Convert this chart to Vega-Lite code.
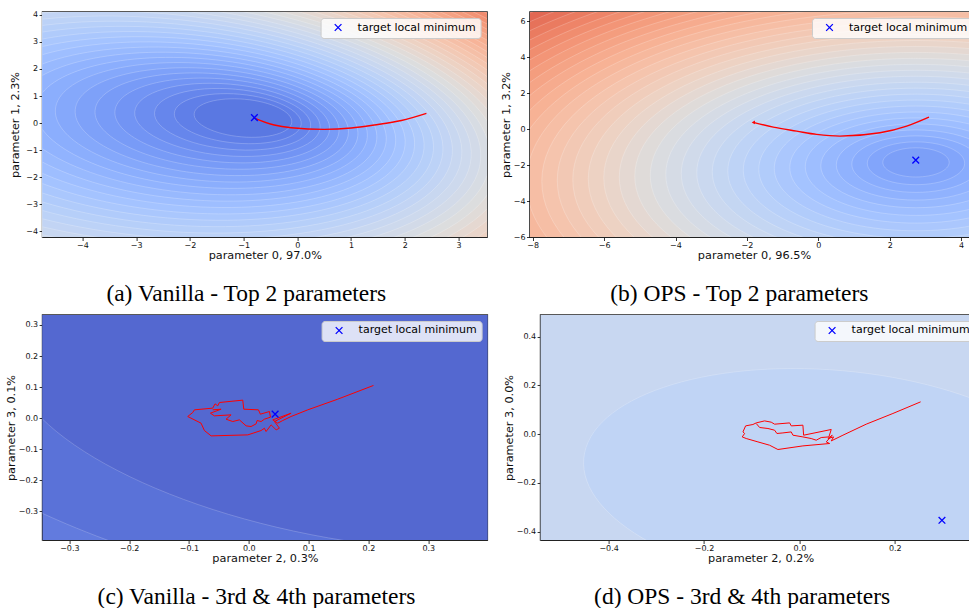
{
  "$schema": "https://vega.github.io/schema/vega-lite/v6.json",
  "padding": {"left": 4.6, "top": 10, "right": 0, "bottom": 0},
  "background": "white",
  "datasets": {
    "ringsA": [
      {"x":-4.877,"y":-0.710,"lvl":0.780},{"x":-4.781,"y":-0.688,"lvl":0.762},{"x":-4.684,"y":-0.665,"lvl":0.744},{"x":-4.587,"y":-0.643,"lvl":0.726},
      {"x":-4.491,"y":-0.621,"lvl":0.708},{"x":-4.394,"y":-0.598,"lvl":0.690},{"x":-4.298,"y":-0.576,"lvl":0.672},{"x":-4.201,"y":-0.554,"lvl":0.654},
      {"x":-4.104,"y":-0.531,"lvl":0.636},{"x":-4.008,"y":-0.509,"lvl":0.618},{"x":-3.911,"y":-0.487,"lvl":0.600},{"x":-3.815,"y":-0.464,"lvl":0.582},
      {"x":-3.718,"y":-0.442,"lvl":0.564},{"x":-3.621,"y":-0.420,"lvl":0.546},{"x":-3.525,"y":-0.397,"lvl":0.528},{"x":-3.428,"y":-0.375,"lvl":0.510},
      {"x":-3.332,"y":-0.353,"lvl":0.492},{"x":-3.235,"y":-0.330,"lvl":0.474},{"x":-3.138,"y":-0.308,"lvl":0.456},{"x":-3.042,"y":-0.286,"lvl":0.438},
      {"x":-2.945,"y":-0.263,"lvl":0.420},{"x":-2.849,"y":-0.241,"lvl":0.402},{"x":-2.752,"y":-0.219,"lvl":0.384},{"x":-2.655,"y":-0.196,"lvl":0.366},
      {"x":-2.559,"y":-0.174,"lvl":0.348},{"x":-2.462,"y":-0.152,"lvl":0.330},{"x":-2.365,"y":-0.129,"lvl":0.312},{"x":-2.269,"y":-0.107,"lvl":0.294},
      {"x":-2.172,"y":-0.085,"lvl":0.276},{"x":-2.076,"y":-0.062,"lvl":0.258},{"x":-1.979,"y":-0.040,"lvl":0.240},{"x":-1.882,"y":-0.018,"lvl":0.222},
      {"x":-1.786,"y":0.005,"lvl":0.204},{"x":-1.689,"y":0.027,"lvl":0.186},{"x":-1.593,"y":0.050,"lvl":0.168},{"x":-1.496,"y":0.072,"lvl":0.150},
      {"x":-1.399,"y":0.094,"lvl":0.132},{"x":-1.303,"y":0.117,"lvl":0.114},{"x":-1.206,"y":0.139,"lvl":0.096},{"x":-1.110,"y":0.161,"lvl":0.078},
      {"x":-1.013,"y":0.184,"lvl":0.060}
    ],
    "ringsB": [
      {"x":2.736,"y":-3.617,"lvl":0.8415},{"x":2.736,"y":-3.569,"lvl":0.820},{"x":2.736,"y":-3.521,"lvl":0.7985},{"x":2.736,"y":-3.474,"lvl":0.777},
      {"x":2.736,"y":-3.426,"lvl":0.7555},{"x":2.736,"y":-3.378,"lvl":0.734},{"x":2.736,"y":-3.330,"lvl":0.7125},{"x":2.736,"y":-3.282,"lvl":0.691},
      {"x":2.736,"y":-3.235,"lvl":0.6695},{"x":2.736,"y":-3.187,"lvl":0.648},{"x":2.736,"y":-3.139,"lvl":0.6265},{"x":2.736,"y":-3.091,"lvl":0.605},
      {"x":2.736,"y":-3.044,"lvl":0.5835},{"x":2.736,"y":-2.996,"lvl":0.562},{"x":2.736,"y":-2.948,"lvl":0.5405},{"x":2.736,"y":-2.900,"lvl":0.519},
      {"x":2.736,"y":-2.852,"lvl":0.4975},{"x":2.736,"y":-2.805,"lvl":0.476},{"x":2.736,"y":-2.757,"lvl":0.4545},{"x":2.736,"y":-2.709,"lvl":0.433},
      {"x":2.736,"y":-2.661,"lvl":0.4115},{"x":2.736,"y":-2.614,"lvl":0.390},{"x":2.736,"y":-2.566,"lvl":0.3685},{"x":2.736,"y":-2.518,"lvl":0.347},
      {"x":2.736,"y":-2.470,"lvl":0.3255},{"x":2.736,"y":-2.423,"lvl":0.304},{"x":2.736,"y":-2.375,"lvl":0.2825},{"x":2.736,"y":-2.327,"lvl":0.261},
      {"x":2.736,"y":-2.279,"lvl":0.2395},{"x":2.736,"y":-2.231,"lvl":0.218},{"x":2.736,"y":-2.184,"lvl":0.1965},{"x":2.736,"y":-2.136,"lvl":0.175},
      {"x":2.736,"y":-2.088,"lvl":0.1535},{"x":2.736,"y":-2.040,"lvl":0.132},{"x":2.736,"y":-1.993,"lvl":0.1105},{"x":2.736,"y":-1.945,"lvl":0.089},
      {"x":2.736,"y":-1.897,"lvl":0.0675},{"x":2.736,"y":-1.849,"lvl":0.046}
    ],
    "ringsC": [
      {"x":0.171,"y":0.0268,"lvl":2.5},{"x":0.171,"y":0.0268,"lvl":1.455},{"x":0.171,"y":0.0268,"lvl":1.0}
    ],
    "ringsD": [
      {"x":0.070,"y":-0.189,"lvl":3.0},{"x":0.070,"y":-0.189,"lvl":1.0}
    ],
    "trajA": [
      {"i":0,"x":-0.816,"y":0.195},{"i":1,"x":-0.431,"y":-0.075},{"i":2,"x":-0.114,"y":-0.175},{"i":3,"x":0.501,"y":-0.234},
      {"i":4,"x":1.004,"y":-0.186},{"i":5,"x":1.433,"y":-0.075},{"i":6,"x":1.936,"y":0.091},{"i":7,"x":2.402,"y":0.358}
    ],
    "trajB": [
      {"i":0,"x":-1.82,"y":0.376},{"i":1,"x":-1.261,"y":0.114},{"i":2,"x":-0.606,"y":-0.108},{"i":3,"x":-0.045,"y":-0.291},
      {"i":4,"x":0.607,"y":-0.386},{"i":5,"x":1.728,"y":-0.202},{"i":6,"x":2.476,"y":0.17},{"i":7,"x":3.1,"y":0.67}
    ],
    "trajC": [
      {"i":1,"x":0.2084,"y":0.1053},{"i":2,"x":0.1488,"y":0.0612},{"i":3,"x":0.0986,"y":0.0268},{"i":4,"x":0.0707,"y":0.0053},
      {"i":5,"x":0.0568,"y":-0.0076},{"i":6,"x":0.0484,"y":-0.0162},{"i":7,"x":0.0401,"y":-0.0055},{"i":8,"x":0.0707,"y":0.016},
      {"i":9,"x":0.0429,"y":-0.0109},{"i":10,"x":0.0512,"y":-0.0324},{"i":11,"x":0.0457,"y":-0.0377},{"i":12,"x":0.0373,"y":-0.0216},
      {"i":13,"x":0.0289,"y":-0.0431},{"i":14,"x":0.0261,"y":-0.0324},{"i":15,"x":0.0206,"y":-0.0399},{"i":16,"x":-0.0017,"y":-0.0539},
      {"i":17,"x":-0.063,"y":-0.0571},{"i":18,"x":-0.0742,"y":-0.0399},{"i":19,"x":-0.0798,"y":-0.0162},{"i":20,"x":-0.1021,"y":0.0053},
      {"i":21,"x":-0.0937,"y":0.0182},{"i":22,"x":-0.0909,"y":0.0268},{"i":23,"x":-0.0603,"y":0.0322},{"i":24,"x":-0.0564,"y":0.0461},
      {"i":25,"x":-0.0519,"y":0.0397},{"i":26,"x":-0.0491,"y":0.0504},{"i":27,"x":-0.0101,"y":0.058},{"i":28,"x":-0.0084,"y":0.0289},
      {"i":29,"x":0.0161,"y":0.0268},{"i":30,"x":0.0194,"y":0.0128},{"i":31,"x":0.0345,"y":0.0214},{"i":32,"x":0.0362,"y":0.0031},
      {"i":33,"x":0.0261,"y":-0.0033},{"i":34,"x":0.0206,"y":-0.0109},{"i":35,"x":0.0139,"y":-0.0076},{"i":36,"x":0.0122,"y":-0.0184},
      {"i":37,"x":0.0038,"y":-0.027},{"i":38,"x":-0.0045,"y":-0.0248},{"i":39,"x":-0.0157,"y":-0.0055},{"i":40,"x":-0.0268,"y":-0.0109},
      {"i":41,"x":-0.038,"y":-0.0033},{"i":42,"x":-0.0296,"y":0.0106},{"i":43,"x":-0.0575,"y":0.0074},{"i":44,"x":-0.0642,"y":0.016},
      {"i":45,"x":-0.0463,"y":0.0289},{"i":46,"x":-0.0603,"y":0.0268}
    ],
    "trajD": [
      {"i":1,"x":0.2541,"y":0.1327},{"i":2,"x":0.196,"y":0.085},{"i":3,"x":0.14,"y":0.0411},{"i":4,"x":0.0912,"y":-0.0041},
      {"i":5,"x":0.0667,"y":-0.0275},{"i":6,"x":0.0717,"y":-0.0111},{"i":7,"x":0.0597,"y":-0.0177},{"i":8,"x":0.0688,"y":-0.0041},
      {"i":9,"x":0.0562,"y":-0.0316},{"i":10,"x":0.0633,"y":-0.0382},{"i":11,"x":0.0073,"y":-0.048},{"i":12,"x":-0.0451,"y":-0.0628},
      {"i":13,"x":-0.0625,"y":-0.0452},{"i":14,"x":-0.087,"y":-0.0316},{"i":15,"x":-0.1115,"y":-0.0177},{"i":16,"x":-0.1199,"y":-0.0111},
      {"i":17,"x":-0.1149,"y":0.0029},{"i":18,"x":-0.1184,"y":0.0094},{"i":19,"x":-0.1128,"y":0.0341},{"i":20,"x":-0.0975,"y":0.0398},
      {"i":21,"x":-0.0906,"y":0.0464},{"i":22,"x":-0.073,"y":0.0546},{"i":23,"x":-0.0591,"y":0.0493},{"i":24,"x":-0.052,"y":0.0411},
      {"i":25,"x":-0.0205,"y":0.0464},{"i":26,"x":-0.0172,"y":0.0341},{"i":27,"x":0.0073,"y":0.037},{"i":28,"x":0.0088,"y":-0.0041},
      {"i":29,"x":0.0667,"y":0.0193},{"i":30,"x":0.0618,"y":-0.0111},{"i":31,"x":0.0457,"y":-0.0136},{"i":32,"x":0.0352,"y":-0.0246},
      {"i":33,"x":0.0247,"y":-0.0177},{"i":34,"x":0.0073,"y":-0.0111},{"i":35,"x":-0.0136,"y":-0.0041},{"i":36,"x":-0.0172,"y":0.0094},
      {"i":37,"x":-0.0346,"y":0.0053},{"i":38,"x":-0.0472,"y":0.0029},{"i":39,"x":-0.052,"y":0.0164},{"i":40,"x":-0.066,"y":0.0234},
      {"i":41,"x":-0.0834,"y":0.0275},{"i":42,"x":-0.0906,"y":0.0439}
    ]
  },
  "resolve": {"scale": {"fill": "independent", "size": "independent", "shape": "independent"}},
  "spacing": 7,
  "vconcat": [
    {
      "spacing": 10.4,
      "resolve": {"scale": {"fill": "independent", "size": "independent", "shape": "independent"}},
      "hconcat": [
        {
          "width": 444.4, "height": 225,
          "title": {"text": "(a) Vanilla - Top 2 parameters", "orient": "bottom", "anchor": "middle", "frame": "bounds", "offset": 21.6, "dx": -2},
          "layer": [
            {
              "data": {"name": "ringsA"},
              "mark": {"type": "point", "shape": "M-1,0C-1,-0.2126,-0.5523,-0.385,0,-0.385C0.5523,-0.385,1,-0.2126,1,0C1,0.2126,0.5523,0.385,0,0.385C-0.5523,0.385,-1,0.2126,-1,0Z", "filled": true, "opacity": 1, "stroke": "#ffffff", "strokeWidth": 0.6, "strokeOpacity": 0.35, "angle": 5, "clip": true},
              "encoding": {
                "x": {"field": "x", "type": "quantitative", "scale": {"domain": [-4.743, 3.53], "nice": false, "zero": false}, "axis": {"title": "parameter 0, 97.0%", "values": [-4,-3,-2,-1,0,1,2,3], "tickCount": 40, "format": "d"}},
                "y": {"field": "y", "type": "quantitative", "scale": {"domain": [-4.22, 4.11], "nice": false, "zero": false}, "axis": {"title": "parameter 1, 2.3%", "values": [-4,-3,-2,-1,0,1,2,3,4], "tickCount": 40, "format": "d", "titlePadding": 5.2}},
                "fill": {"field": "lvl", "type": "quantitative", "legend": null, "scale": {"interpolate": "rgb", "domain": [-0.04,0.0225,0.085,0.1475,0.21,0.2725,0.335,0.3975,0.46,0.5225,0.585,0.6475,0.71,0.7725,0.835,0.8975,0.96], "range": ["#3B4CC0","#4D68D7","#6282EA","#779AF7","#8DB0FE","#A3C2FF","#B8D0F9","#CCD9EE","#DDDDDD","#ECD3C5","#F5C4AD","#F7B194","#F49A7B","#EC7F63","#DE604D","#CB3E38","#B40426"]}},
                "size": {"field": "lvl", "type": "quantitative", "legend": null, "scale": {"type": "pow", "exponent": 2, "domain": [0, 1], "range": [0, 2663424]}}
              }
            },
            {
              "data": {"name": "trajA"},
              "mark": {"type": "line", "stroke": "#ff0000", "strokeWidth": 1.4, "interpolate": "monotone"},
              "encoding": {"x": {"field": "x", "type": "quantitative"}, "y": {"field": "y", "type": "quantitative"}, "order": {"field": "i", "type": "quantitative"}}
            },
            {
              "data": {"values": [{"x": -0.8, "y": 0.2, "label": "target local minimum"}]},
              "mark": {"type": "point", "filled": false, "stroke": "#0000ff", "strokeWidth": 1.3, "size": 45, "opacity": 1},
              "encoding": {"x": {"field": "x", "type": "quantitative"}, "y": {"field": "y", "type": "quantitative"}, "shape": {"field": "label", "type": "nominal", "scale": {"range": ["M-1,-1L1,1M-1,1L1,-1"]}, "legend": {"title": null}}}
            }
          ]
        },
        {
          "width": 448, "height": 225,
          "title": {"text": "(b) OPS - Top 2 parameters", "orient": "bottom", "anchor": "middle", "frame": "bounds", "offset": 21.6},
          "layer": [
            {
              "data": {"name": "ringsB"},
              "mark": {"type": "point", "shape": "M-1,0C-1,-0.243,-0.5523,-0.44,0,-0.44C0.5523,-0.44,1,-0.243,1,0C1,0.243,0.5523,0.44,0,0.44C-0.5523,0.44,-1,0.243,-1,0Z", "filled": true, "opacity": 1, "stroke": "#ffffff", "strokeWidth": 0.6, "strokeOpacity": 0.35, "angle": 0, "clip": true},
              "encoding": {
                "x": {"field": "x", "type": "quantitative", "scale": {"domain": [-8.076, 4.473], "nice": false, "zero": false}, "axis": {"title": "parameter 0, 96.5%", "values": [-8,-6,-4,-2,0,2,4], "tickCount": 40, "format": "d"}},
                "y": {"field": "y", "type": "quantitative", "scale": {"domain": [-6.0, 6.52], "nice": false, "zero": false}, "axis": {"title": "parameter 1, 3.2%", "values": [-6,-4,-2,0,2,4,6], "tickCount": 40, "format": "d"}},
                "fill": {"field": "lvl", "type": "quantitative", "legend": null, "scale": {"interpolate": "rgb", "domain": [-0.1767,-0.1072,-0.0378,0.0317,0.1011,0.1706,0.24,0.3094,0.3789,0.4483,0.5178,0.5872,0.6567,0.7261,0.7956,0.865,0.9344], "range": ["#3B4CC0","#4D68D7","#6282EA","#779AF7","#8DB0FE","#A3C2FF","#B8D0F9","#CCD9EE","#DDDDDD","#ECD3C5","#F5C4AD","#F7B194","#F49A7B","#EC7F63","#DE604D","#CB3E38","#B40426"]}},
                "size": {"field": "lvl", "type": "quantitative", "legend": null, "scale": {"type": "pow", "exponent": 2, "domain": [0, 1], "range": [0, 2079364]}}
              }
            },
            {
              "data": {"name": "trajB"},
              "mark": {"type": "line", "stroke": "#ff0000", "strokeWidth": 1.4, "interpolate": "monotone"},
              "encoding": {"x": {"field": "x", "type": "quantitative"}, "y": {"field": "y", "type": "quantitative"}, "order": {"field": "i", "type": "quantitative"}}
            },
            {
              "data": {"values": [{"x": -1.82, "y": 0.376}]},
              "mark": {"type": "point", "shape": "triangle-left", "filled": true, "fill": "#ff0000", "size": 14, "opacity": 1, "strokeWidth": 0},
              "encoding": {"x": {"field": "x", "type": "quantitative"}, "y": {"field": "y", "type": "quantitative"}}
            },
            {
              "data": {"values": [{"x": 2.73, "y": -1.72, "label": "target local minimum"}]},
              "mark": {"type": "point", "filled": false, "stroke": "#0000ff", "strokeWidth": 1.3, "size": 45, "opacity": 1},
              "encoding": {"x": {"field": "x", "type": "quantitative"}, "y": {"field": "y", "type": "quantitative"}, "shape": {"field": "label", "type": "nominal", "scale": {"range": ["M-1,-1L1,1M-1,1L1,-1"]}, "legend": {"title": null}}}
            }
          ]
        }
      ]
    },
    {
      "spacing": 14,
      "resolve": {"scale": {"fill": "independent", "size": "independent", "shape": "independent"}},
      "hconcat": [
        {
          "width": 444.7, "height": 225,
          "title": {"text": "(c) Vanilla - 3rd & 4th parameters", "orient": "bottom", "anchor": "middle", "frame": "bounds", "offset": 21.6, "dx": 10},
          "layer": [
            {
              "data": {"name": "ringsC"},
              "mark": {"type": "point", "shape": "M-1,0C-1,-0.2082,-0.5523,-0.377,0,-0.377C0.5523,-0.377,1,-0.2082,1,0C1,0.2082,0.5523,0.377,0,0.377C-0.5523,0.377,-1,0.2082,-1,0Z", "filled": true, "opacity": 1, "stroke": "#ffffff", "strokeWidth": 0.6, "strokeOpacity": 0.3, "angle": 10, "clip": true},
              "encoding": {
                "x": {"field": "x", "type": "quantitative", "scale": {"domain": [-0.3447, 0.3987], "nice": false, "zero": false}, "axis": {"title": "parameter 2, 0.3%", "values": [-0.3,-0.2,-0.1,0,0.1,0.2,0.3], "tickCount": 40, "format": ".1f"}},
                "y": {"field": "y", "type": "quantitative", "scale": {"domain": [-0.3924, 0.3322], "nice": false, "zero": false}, "axis": {"title": "parameter 3, 0.1%", "values": [-0.3,-0.2,-0.1,0,0.1,0.2,0.3], "tickCount": 40, "format": ".1f"}},
                "fill": {"field": "lvl", "type": "quantitative", "legend": null, "scale": {"interpolate": "rgb", "domain": [1, 1.455, 2.5], "range": ["#5468D0", "#5A72D8", "#627BDE"]}},
                "size": {"field": "lvl", "type": "quantitative", "legend": null, "scale": {"type": "pow", "exponent": 2, "domain": [0, 1], "range": [0, 476100]}}
              }
            },
            {
              "data": {"name": "trajC"},
              "mark": {"type": "line", "stroke": "#ff0000", "strokeWidth": 1},
              "encoding": {"x": {"field": "x", "type": "quantitative"}, "y": {"field": "y", "type": "quantitative"}, "order": {"field": "i", "type": "quantitative"}}
            },
            {
              "data": {"values": [{"x": 0.044, "y": 0.0128, "label": "target local minimum"}]},
              "mark": {"type": "point", "filled": false, "stroke": "#0000ff", "strokeWidth": 1.3, "size": 45, "opacity": 1},
              "encoding": {"x": {"field": "x", "type": "quantitative"}, "y": {"field": "y", "type": "quantitative"}, "shape": {"field": "label", "type": "nominal", "scale": {"range": ["M-1,-1L1,1M-1,1L1,-1"]}, "legend": {"title": null}}}
            }
          ]
        },
        {
          "width": 440, "height": 225,
          "title": {"text": "(d) OPS - 3rd & 4th parameters", "orient": "bottom", "anchor": "middle", "frame": "bounds", "offset": 21.6},
          "layer": [
            {
              "data": {"name": "ringsD"},
              "mark": {"type": "point", "shape": "M-1,0C-1,-0.243,-0.5523,-0.44,0,-0.44C0.5523,-0.44,1,-0.243,1,0C1,0.243,0.5523,0.44,0,0.44C-0.5523,0.44,-1,0.243,-1,0Z", "filled": true, "opacity": 1, "stroke": "#ffffff", "strokeWidth": 0.6, "strokeOpacity": 0.35, "angle": 5, "clip": true},
              "encoding": {
                "x": {"field": "x", "type": "quantitative", "scale": {"domain": [-0.5426, 0.3798], "nice": false, "zero": false}, "axis": {"title": "parameter 2, 0.2%", "values": [-0.4,-0.2,0,0.2], "tickCount": 40, "format": ".1f"}},
                "y": {"field": "y", "type": "quantitative", "scale": {"domain": [-0.434, 0.489], "nice": false, "zero": false}, "axis": {"title": "parameter 3, 0.0%", "values": [-0.4,-0.2,0,0.2,0.4], "tickCount": 40, "format": ".1f"}},
                "fill": {"field": "lvl", "type": "quantitative", "legend": null, "scale": {"interpolate": "rgb", "domain": [1, 3], "range": ["#C0D4F5", "#C8D7F1"]}},
                "size": {"field": "lvl", "type": "quantitative", "legend": null, "scale": {"type": "pow", "exponent": 2, "domain": [0, 1], "range": [0, 250000]}}
              }
            },
            {
              "data": {"name": "trajD"},
              "mark": {"type": "line", "stroke": "#ff0000", "strokeWidth": 1},
              "encoding": {"x": {"field": "x", "type": "quantitative"}, "y": {"field": "y", "type": "quantitative"}, "order": {"field": "i", "type": "quantitative"}}
            },
            {
              "data": {"values": [{"x": 0.2988, "y": -0.3532, "label": "target local minimum"}]},
              "mark": {"type": "point", "filled": false, "stroke": "#0000ff", "strokeWidth": 1.3, "size": 45, "opacity": 1},
              "encoding": {"x": {"field": "x", "type": "quantitative"}, "y": {"field": "y", "type": "quantitative"}, "shape": {"field": "label", "type": "nominal", "scale": {"range": ["M-1,-1L1,1M-1,1L1,-1"]}, "legend": {"title": null}}}
            }
          ]
        }
      ]
    }
  ],
  "config": {
    "font": "DejaVu Sans",
    "view": {"stroke": "#222222", "strokeWidth": 1.6},
    "axis": {"grid": false, "domain": true, "domainColor": "#222222", "domainWidth": 1, "zindex": 1, "minExtent": 0, "tickColor": "#000000", "tickSize": 3.5, "tickWidth": 0.8, "labelFont": "DejaVu Sans", "labelFontSize": 8, "labelColor": "#111111", "labelPadding": 1.5, "labelFlush": false, "labelOverlap": false, "titleFont": "DejaVu Sans", "titleFontSize": 11.3, "titleFontWeight": "normal", "titleColor": "#111111"},
    "axisX": {"titlePadding": 0, "labelPadding": 1},
    "axisY": {"titlePadding": 1.5},
    "title": {"font": "Liberation Serif", "fontSize": 23.5, "fontWeight": "normal", "color": "#000000"},
    "legend": {"orient": "top-right", "offset": 6, "padding": 4, "fillColor": "rgba(255,255,255,0.8)", "strokeColor": "#cccccc", "cornerRadius": 3, "labelFont": "DejaVu Sans", "labelFontSize": 11, "labelColor": "#000000", "symbolSize": 45, "symbolStrokeColor": "#0000ff", "symbolStrokeWidth": 1.3, "symbolFillColor": "transparent", "symbolOffset": 8, "labelOffset": 14}
  }
}
